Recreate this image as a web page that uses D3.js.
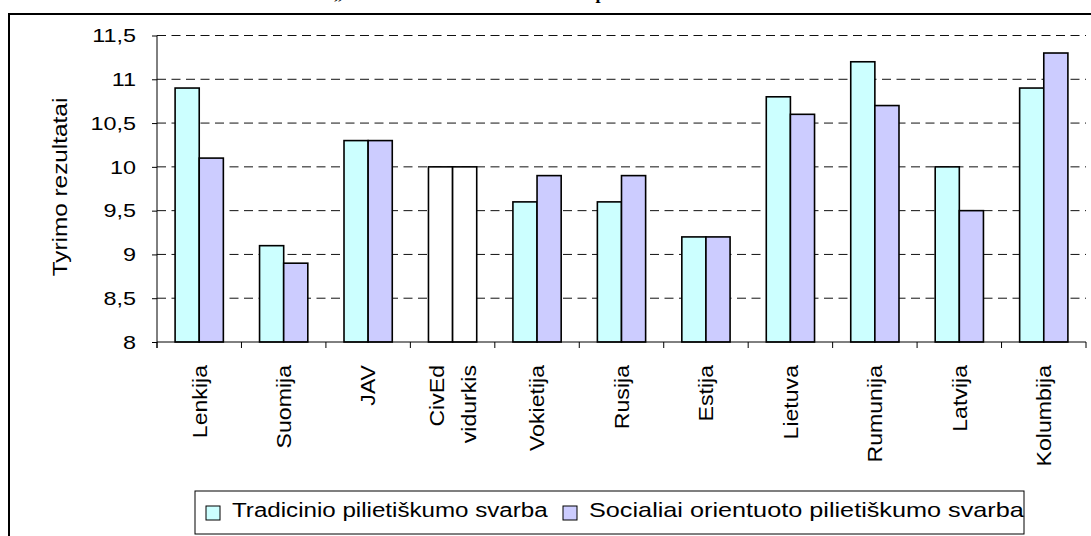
<!DOCTYPE html>
<html>
<head>
<meta charset="utf-8">
<script src="https://cdn.jsdelivr.net/npm/d3@7"></script>
<style>
  body { margin: 0; background: #fff; }
  svg { display: block; }
  text { font-family: "Liberation Sans", Arial, sans-serif; fill: #000; }
</style>
</head>
<body>
<svg width="1091" height="536"></svg>
<script>
// data
const categories = ['Lenkija', 'Suomija', 'JAV', 'CivEd vidurkis', 'Vokietija', 'Rusija',
  'Estija', 'Lietuva', 'Rumunija', 'Latvija', 'Kolumbija'];
const tradicinio = [10.9, 9.1, 10.3, 10, 9.6, 9.6, 9.2, 10.8, 11.2, 10, 10.9];
const socialiai = [10.1, 8.9, 10.3, 10, 9.9, 9.9, 9.2, 10.6, 10.7, 9.5, 11.3];
const seriesNames = ['Tradicinio pilietiškumo svarba', 'Socialiai orientuoto pilietiškumo svarba'];
const yTicks = [8, 8.5, 9, 9.5, 10, 10.5, 11, 11.5];
const title = '„Tradicinio ir socialiai orientuoto pilietiškumo svarba“';
const yTitle = 'Tyrimo rezultatai';

const colors = ['#ccffff', '#ccccff'];
const averageCat = 'CivEd vidurkis';

const svg = d3.select('svg');

// chart frame (runs off the right and bottom edges)
svg.append('rect')
  .attr('x', 9).attr('y', 14)
  .attr('width', 1200).attr('height', 600)
  .attr('fill', '#fff').attr('stroke', '#000').attr('stroke-width', 2);

// title, mostly cut off by the top of the picture
svg.append('text')
  .attr('x', 545).attr('y', -1)
  .attr('text-anchor', 'middle')
  .style('font-family', '"Liberation Serif", "Times New Roman", serif')
  .style('font-weight', 'bold')
  .style('font-size', '18px')
  .text(title);

const plotL = 157, plotR = 1086, plotT = 35.5, plotB = 342;

const x = d3.scaleBand()
  .domain(categories)
  .range([plotL, plotR])
  .paddingInner(0.4286)
  .paddingOuter(0.2143);

const x1 = d3.scaleBand()
  .domain([0, 1])
  .range([0, x.bandwidth()]);

const y = d3.scaleLinear()
  .domain([8, 11.5])
  .range([plotB, plotT]);

// dashed grid
svg.append('g')
  .selectAll('line')
  .data(yTicks.filter(d => d > 8))
  .enter()
  .append('line')
  .attr('x1', plotL).attr('x2', plotR)
  .attr('y1', d => y(d)).attr('y2', d => y(d))
  .attr('stroke', '#111')
  .attr('stroke-width', 1)
  .attr('stroke-dasharray', '9,5.5');

// bars
const rows = categories.map((c, i) => ({ cat: c, vals: [tradicinio[i], socialiai[i]] }));

const groups = svg.append('g')
  .selectAll('g')
  .data(rows)
  .enter()
  .append('g')
  .attr('transform', d => `translate(${x(d.cat)},0)`);

groups.selectAll('rect')
  .data(d => d.vals.map((v, k) => ({ v: v, k: k, cat: d.cat })))
  .enter()
  .append('rect')
  .attr('x', d => x1(d.k))
  .attr('y', d => y(d.v))
  .attr('width', x1.bandwidth())
  .attr('height', d => y(8) - y(d.v))
  .attr('fill', d => d.cat === averageCat ? '#fff' : colors[d.k])
  .attr('stroke', '#000')
  .attr('stroke-width', 1.6);

// y axis
const yAxis = svg.append('g')
  .attr('transform', `translate(${plotL},0)`)
  .call(d3.axisLeft(y)
    .tickValues(yTicks)
    .tickSize(5)
    .tickFormat(d => String(d).replace('.', ',')));

yAxis.select('.domain').remove();
yAxis.selectAll('.tick line').attr('stroke', '#000');
yAxis.selectAll('.tick text')
  .attr('x', 0)
  .attr('dy', '0.35em')
  .attr('transform', 'translate(-21,0) scale(1.3,1)')
  .style('font-size', '18px')
  .style('font-family', '"Liberation Sans", Arial, sans-serif');

svg.append('line')
  .attr('x1', plotL).attr('x2', plotL)
  .attr('y1', plotT).attr('y2', plotB + 6)
  .attr('stroke', '#000');

// x axis line and category boundary ticks
svg.append('line')
  .attr('x1', plotL).attr('x2', plotR)
  .attr('y1', plotB).attr('y2', plotB)
  .attr('stroke', '#000');

const half = (x.step() - x.bandwidth()) / 2;
const bounds = categories.map(c => x(c) - half).concat([x(categories[categories.length - 1]) - half + x.step()]);

svg.append('g')
  .selectAll('line')
  .data(bounds)
  .enter()
  .append('line')
  .attr('x1', d => d).attr('x2', d => d)
  .attr('y1', plotB).attr('y2', plotB + 6)
  .attr('stroke', '#000');

// category labels, rotated
const labels = svg.append('g')
  .selectAll('text')
  .data(categories)
  .enter()
  .append('text')
  .attr('transform', d => `translate(${x(d) + x.bandwidth() / 2},365) rotate(-90) scale(1.1,1)`)
  .attr('text-anchor', 'end')
  .style('font-size', '21px');

labels.each(function(d) {
  const parts = d.split(' ');
  const t = d3.select(this);
  parts.forEach((p, i) => {
    t.append('tspan')
      .attr('x', 0)
      .attr('y', (i - (parts.length - 1) / 2) * 32)
      .attr('dy', '0.35em')
      .text(p);
  });
});

// y title
svg.append('text')
  .attr('transform', 'translate(60,187) rotate(-90) scale(1.16,1)')
  .attr('text-anchor', 'middle')
  .attr('dy', '0.35em')
  .style('font-size', '21px')
  .text(yTitle);

// legend
svg.append('rect')
  .attr('x', 195).attr('y', 491)
  .attr('width', 829).attr('height', 43)
  .attr('fill', '#fff').attr('stroke', '#000').attr('stroke-width', 1);

const legendX = [206, 563];
const legendW = [316, 435];

seriesNames.forEach((name, i) => {
  svg.append('rect')
    .attr('x', legendX[i]).attr('y', 506)
    .attr('width', 14).attr('height', 14)
    .attr('fill', colors[i]).attr('stroke', '#000').attr('stroke-width', 1);

  const t = svg.append('text')
    .attr('x', 0).attr('y', 0)
    .style('font-size', '20px')
    .text(name);
  const w = t.node().getComputedTextLength();
  t.attr('transform', `translate(${legendX[i] + 26},517) scale(${legendW[i] / w},1)`);
});
</script>
</body>
</html>
